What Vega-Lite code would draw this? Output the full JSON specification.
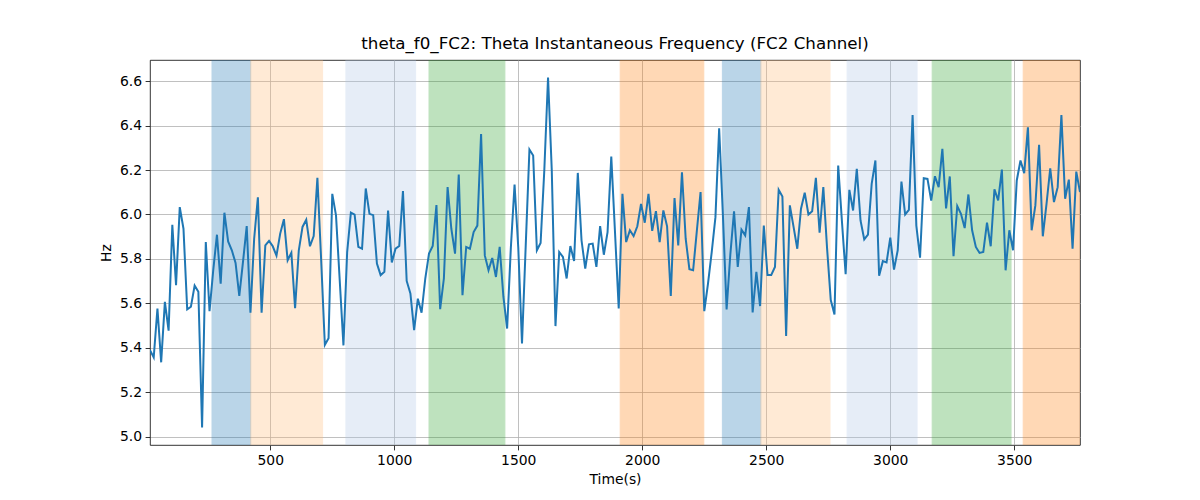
{
  "$schema": "https://vega.github.io/schema/vega-lite/v6.json",
  "width": 930,
  "height": 385,
  "autosize": {"type": "none"},
  "padding": {"left": 150, "top": 60, "right": 120, "bottom": 55},
  "background": "white",
  "title": {
    "text": "theta_f0_FC2: Theta Instantaneous Frequency (FC2 Channel)",
    "font": "DejaVu Sans",
    "fontSize": 16.7,
    "fontWeight": "normal",
    "color": "#000000",
    "offset": 7
  },
  "config": {
    "font": "DejaVu Sans",
    "view": {"stroke": "#000000", "strokeWidth": 0.8},
    "axis": {
      "domain": false,
      "grid": true,
      "gridColor": "#b0b0b0",
      "gridWidth": 0.8,
      "tickColor": "#000000",
      "tickSize": 4.9,
      "tickWidth": 0.8,
      "labelFont": "DejaVu Sans",
      "labelFontSize": 13.9,
      "labelColor": "#000000",
      "labelPadding": 3.5,
      "titleFont": "DejaVu Sans",
      "titleFontSize": 13.9,
      "titleFontWeight": "normal",
      "titleColor": "#000000"
    }
  },
  "datasets": {
    "spans": [
      {"start": 265, "end": 421, "cat": "blue"},
      {"start": 421, "end": 711, "cat": "peach"},
      {"start": 805, "end": 1086, "cat": "lightblue"},
      {"start": 1140, "end": 1446, "cat": "green"},
      {"start": 1911, "end": 2248, "cat": "orange"},
      {"start": 2323, "end": 2478, "cat": "blue"},
      {"start": 2478, "end": 2757, "cat": "peach"},
      {"start": 2826, "end": 3108, "cat": "lightblue"},
      {"start": 3169, "end": 3487, "cat": "green"},
      {"start": 3536, "end": 3765, "cat": "orange"}
    ],
    "freq": [
      {"t": 15, "hz": 5.39}, {"t": 30, "hz": 5.357}, {"t": 45, "hz": 5.577}, {"t": 60, "hz": 5.335},
      {"t": 75, "hz": 5.607}, {"t": 90, "hz": 5.477}, {"t": 105, "hz": 5.954}, {"t": 120, "hz": 5.682},
      {"t": 135, "hz": 6.033}, {"t": 150, "hz": 5.936}, {"t": 165, "hz": 5.573}, {"t": 180, "hz": 5.585},
      {"t": 195, "hz": 5.68}, {"t": 210, "hz": 5.652}, {"t": 225, "hz": 5.042}, {"t": 240, "hz": 5.876},
      {"t": 255, "hz": 5.565}, {"t": 270, "hz": 5.749}, {"t": 285, "hz": 5.909}, {"t": 300, "hz": 5.689},
      {"t": 315, "hz": 6.008}, {"t": 330, "hz": 5.879}, {"t": 345, "hz": 5.839}, {"t": 360, "hz": 5.782},
      {"t": 375, "hz": 5.634}, {"t": 390, "hz": 5.787}, {"t": 405, "hz": 5.948}, {"t": 420, "hz": 5.558},
      {"t": 435, "hz": 5.891}, {"t": 450, "hz": 6.077}, {"t": 465, "hz": 5.558}, {"t": 480, "hz": 5.861},
      {"t": 495, "hz": 5.881}, {"t": 510, "hz": 5.857}, {"t": 525, "hz": 5.815}, {"t": 540, "hz": 5.914},
      {"t": 555, "hz": 5.979}, {"t": 570, "hz": 5.794}, {"t": 585, "hz": 5.828}, {"t": 600, "hz": 5.579},
      {"t": 615, "hz": 5.839}, {"t": 630, "hz": 5.944}, {"t": 645, "hz": 5.976}, {"t": 660, "hz": 5.857},
      {"t": 675, "hz": 5.903}, {"t": 690, "hz": 6.165}, {"t": 705, "hz": 5.8}, {"t": 720, "hz": 5.413},
      {"t": 735, "hz": 5.443}, {"t": 750, "hz": 6.093}, {"t": 765, "hz": 5.996}, {"t": 780, "hz": 5.704},
      {"t": 795, "hz": 5.411}, {"t": 810, "hz": 5.831}, {"t": 825, "hz": 6.008}, {"t": 840, "hz": 5.999},
      {"t": 855, "hz": 5.854}, {"t": 870, "hz": 5.846}, {"t": 885, "hz": 6.117}, {"t": 900, "hz": 6.003},
      {"t": 915, "hz": 5.997}, {"t": 930, "hz": 5.779}, {"t": 945, "hz": 5.727}, {"t": 960, "hz": 5.742},
      {"t": 975, "hz": 6.018}, {"t": 990, "hz": 5.784}, {"t": 1005, "hz": 5.846}, {"t": 1020, "hz": 5.858},
      {"t": 1035, "hz": 6.105}, {"t": 1050, "hz": 5.701}, {"t": 1065, "hz": 5.645}, {"t": 1080, "hz": 5.48},
      {"t": 1095, "hz": 5.621}, {"t": 1110, "hz": 5.558}, {"t": 1125, "hz": 5.712}, {"t": 1140, "hz": 5.824},
      {"t": 1155, "hz": 5.858}, {"t": 1170, "hz": 6.042}, {"t": 1185, "hz": 5.574}, {"t": 1200, "hz": 5.712},
      {"t": 1215, "hz": 6.123}, {"t": 1230, "hz": 5.936}, {"t": 1245, "hz": 5.824}, {"t": 1260, "hz": 6.18},
      {"t": 1275, "hz": 5.637}, {"t": 1290, "hz": 5.854}, {"t": 1305, "hz": 5.846}, {"t": 1320, "hz": 5.921},
      {"t": 1335, "hz": 5.95}, {"t": 1350, "hz": 6.362}, {"t": 1365, "hz": 5.816}, {"t": 1380, "hz": 5.749},
      {"t": 1395, "hz": 5.804}, {"t": 1410, "hz": 5.719}, {"t": 1425, "hz": 5.854}, {"t": 1440, "hz": 5.63},
      {"t": 1455, "hz": 5.487}, {"t": 1470, "hz": 5.85}, {"t": 1485, "hz": 6.135}, {"t": 1500, "hz": 5.85},
      {"t": 1515, "hz": 5.42}, {"t": 1530, "hz": 5.86}, {"t": 1545, "hz": 6.292}, {"t": 1560, "hz": 6.265},
      {"t": 1575, "hz": 5.839}, {"t": 1590, "hz": 5.872}, {"t": 1605, "hz": 6.2}, {"t": 1620, "hz": 6.616},
      {"t": 1635, "hz": 6.2}, {"t": 1650, "hz": 5.498}, {"t": 1665, "hz": 5.831}, {"t": 1680, "hz": 5.809},
      {"t": 1695, "hz": 5.712}, {"t": 1710, "hz": 5.858}, {"t": 1725, "hz": 5.791}, {"t": 1740, "hz": 6.187},
      {"t": 1755, "hz": 5.884}, {"t": 1770, "hz": 5.757}, {"t": 1785, "hz": 5.866}, {"t": 1800, "hz": 5.869},
      {"t": 1815, "hz": 5.764}, {"t": 1830, "hz": 5.948}, {"t": 1845, "hz": 5.819}, {"t": 1860, "hz": 5.921},
      {"t": 1875, "hz": 6.261}, {"t": 1890, "hz": 5.92}, {"t": 1905, "hz": 5.577}, {"t": 1920, "hz": 6.093},
      {"t": 1935, "hz": 5.876}, {"t": 1950, "hz": 5.929}, {"t": 1965, "hz": 5.903}, {"t": 1980, "hz": 5.947},
      {"t": 1995, "hz": 6.048}, {"t": 2010, "hz": 5.963}, {"t": 2025, "hz": 6.093}, {"t": 2040, "hz": 5.926},
      {"t": 2055, "hz": 6.015}, {"t": 2070, "hz": 5.876}, {"t": 2085, "hz": 6.018}, {"t": 2100, "hz": 5.947},
      {"t": 2115, "hz": 5.633}, {"t": 2130, "hz": 6.074}, {"t": 2145, "hz": 5.861}, {"t": 2160, "hz": 6.19},
      {"t": 2175, "hz": 5.891}, {"t": 2190, "hz": 5.754}, {"t": 2205, "hz": 5.749}, {"t": 2220, "hz": 5.926},
      {"t": 2235, "hz": 6.101}, {"t": 2250, "hz": 5.565}, {"t": 2265, "hz": 5.689}, {"t": 2280, "hz": 5.831},
      {"t": 2295, "hz": 5.988}, {"t": 2310, "hz": 6.388}, {"t": 2325, "hz": 6.0}, {"t": 2340, "hz": 5.573},
      {"t": 2355, "hz": 5.82}, {"t": 2370, "hz": 6.014}, {"t": 2385, "hz": 5.764}, {"t": 2400, "hz": 5.932},
      {"t": 2415, "hz": 5.906}, {"t": 2430, "hz": 6.033}, {"t": 2445, "hz": 5.559}, {"t": 2460, "hz": 5.742},
      {"t": 2475, "hz": 5.588}, {"t": 2490, "hz": 5.95}, {"t": 2505, "hz": 5.728}, {"t": 2520, "hz": 5.728},
      {"t": 2535, "hz": 5.764}, {"t": 2550, "hz": 6.111}, {"t": 2565, "hz": 6.081}, {"t": 2580, "hz": 5.453},
      {"t": 2595, "hz": 6.041}, {"t": 2610, "hz": 5.944}, {"t": 2625, "hz": 5.846}, {"t": 2640, "hz": 6.026},
      {"t": 2655, "hz": 6.098}, {"t": 2670, "hz": 6.0}, {"t": 2685, "hz": 6.015}, {"t": 2700, "hz": 6.165},
      {"t": 2715, "hz": 5.918}, {"t": 2730, "hz": 6.123}, {"t": 2745, "hz": 5.85}, {"t": 2760, "hz": 5.615},
      {"t": 2775, "hz": 5.55}, {"t": 2790, "hz": 6.22}, {"t": 2805, "hz": 5.97}, {"t": 2820, "hz": 5.731},
      {"t": 2835, "hz": 6.111}, {"t": 2850, "hz": 6.018}, {"t": 2865, "hz": 6.205}, {"t": 2880, "hz": 5.973},
      {"t": 2895, "hz": 5.888}, {"t": 2910, "hz": 5.909}, {"t": 2925, "hz": 6.138}, {"t": 2940, "hz": 6.243},
      {"t": 2955, "hz": 5.724}, {"t": 2970, "hz": 5.79}, {"t": 2985, "hz": 5.784}, {"t": 3000, "hz": 5.896},
      {"t": 3015, "hz": 5.752}, {"t": 3030, "hz": 5.839}, {"t": 3045, "hz": 6.148}, {"t": 3060, "hz": 6.0},
      {"t": 3075, "hz": 6.021}, {"t": 3090, "hz": 6.447}, {"t": 3105, "hz": 5.95}, {"t": 3120, "hz": 5.806},
      {"t": 3135, "hz": 6.163}, {"t": 3150, "hz": 6.16}, {"t": 3165, "hz": 6.063}, {"t": 3180, "hz": 6.172},
      {"t": 3195, "hz": 6.123}, {"t": 3210, "hz": 6.295}, {"t": 3225, "hz": 6.027}, {"t": 3240, "hz": 6.171},
      {"t": 3255, "hz": 5.812}, {"t": 3270, "hz": 6.038}, {"t": 3285, "hz": 6.003}, {"t": 3300, "hz": 5.939},
      {"t": 3315, "hz": 6.09}, {"t": 3330, "hz": 5.929}, {"t": 3345, "hz": 5.854}, {"t": 3360, "hz": 5.827},
      {"t": 3375, "hz": 5.831}, {"t": 3390, "hz": 5.963}, {"t": 3405, "hz": 5.857}, {"t": 3420, "hz": 6.113},
      {"t": 3435, "hz": 6.063}, {"t": 3450, "hz": 6.202}, {"t": 3465, "hz": 5.749}, {"t": 3480, "hz": 5.929},
      {"t": 3495, "hz": 5.839}, {"t": 3510, "hz": 6.153}, {"t": 3525, "hz": 6.243}, {"t": 3540, "hz": 6.186},
      {"t": 3555, "hz": 6.392}, {"t": 3570, "hz": 5.929}, {"t": 3585, "hz": 6.041}, {"t": 3600, "hz": 6.314},
      {"t": 3615, "hz": 5.902}, {"t": 3630, "hz": 6.048}, {"t": 3645, "hz": 6.208}, {"t": 3660, "hz": 6.056},
      {"t": 3675, "hz": 6.123}, {"t": 3690, "hz": 6.447}, {"t": 3705, "hz": 6.071}, {"t": 3720, "hz": 6.157},
      {"t": 3735, "hz": 5.846}, {"t": 3750, "hz": 6.193}, {"t": 3765, "hz": 6.101}
    ]
  },
  "layer": [
    {
      "data": {"name": "spans"},
      "mark": {"type": "rect", "opacity": 0.3, "strokeWidth": 1, "clip": true},
      "encoding": {
        "x": {
          "field": "start",
          "type": "quantitative",
          "scale": {"domain": [15, 3765], "nice": false, "zero": false},
          "axis": {"values": [500, 1000, 1500, 2000, 2500, 3000, 3500], "format": "d", "title": "Time(s)", "titlePadding": 5}
        },
        "x2": {"field": "end"},
        "color": {
          "field": "cat",
          "type": "nominal",
          "legend": null,
          "scale": {
            "domain": ["blue", "peach", "lightblue", "green", "orange"],
            "range": ["#1f77b4", "#ffbb78", "#aec7e8", "#2ca02c", "#ff7f0e"]
          }
        },
        "stroke": {
          "field": "cat",
          "type": "nominal",
          "legend": null,
          "scale": {
            "domain": ["blue", "peach", "lightblue", "green", "orange"],
            "range": ["#1f77b4", "#ffbb78", "#aec7e8", "#2ca02c", "#ff7f0e"]
          }
        }
      }
    },
    {
      "data": {"name": "freq"},
      "mark": {"type": "line", "color": "#1f77b4", "strokeWidth": 2, "clip": true},
      "encoding": {
        "x": {"field": "t", "type": "quantitative"},
        "y": {
          "field": "hz",
          "type": "quantitative",
          "scale": {"domain": [4.963, 6.695], "nice": false, "zero": false},
          "axis": {"values": [5.0, 5.2, 5.4, 5.6, 5.8, 6.0, 6.2, 6.4, 6.6], "format": ".1f", "title": "Hz", "titlePadding": 6}
        }
      }
    }
  ]
}
